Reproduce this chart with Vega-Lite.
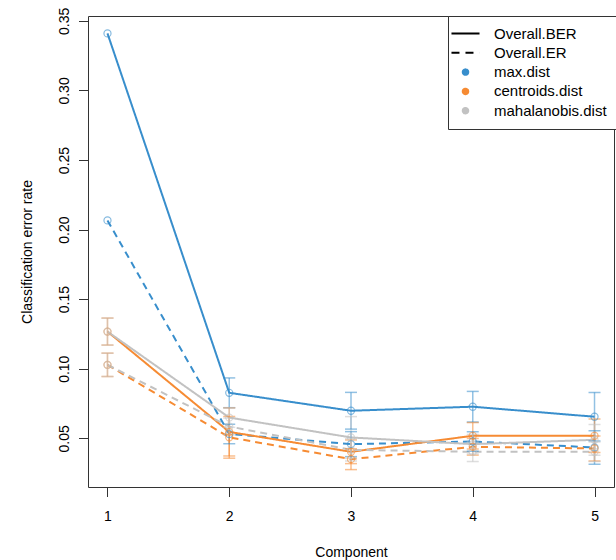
{
  "$schema": "https://vega.github.io/schema/vega-lite/v6.json",
  "width": 526,
  "height": 471,
  "autosize": {"type": "none"},
  "padding": {"left": 88, "top": 16, "right": 2, "bottom": 73},
  "background": "white",
  "data": {
    "values": [
      {"comp": 1, "method": "max.dist", "measure": "Overall.BER", "mean": 0.341, "lo": 0.341, "hi": 0.341},
      {"comp": 2, "method": "max.dist", "measure": "Overall.BER", "mean": 0.0827, "lo": 0.072, "hi": 0.0934},
      {"comp": 3, "method": "max.dist", "measure": "Overall.BER", "mean": 0.0698, "lo": 0.0566, "hi": 0.083},
      {"comp": 4, "method": "max.dist", "measure": "Overall.BER", "mean": 0.0727, "lo": 0.0617, "hi": 0.0837},
      {"comp": 5, "method": "max.dist", "measure": "Overall.BER", "mean": 0.0655, "lo": 0.048, "hi": 0.083},
      {"comp": 1, "method": "max.dist", "measure": "Overall.ER", "mean": 0.2066, "lo": 0.2066, "hi": 0.2066},
      {"comp": 2, "method": "max.dist", "measure": "Overall.ER", "mean": 0.0531, "lo": 0.0461, "hi": 0.0601},
      {"comp": 3, "method": "max.dist", "measure": "Overall.ER", "mean": 0.0458, "lo": 0.0368, "hi": 0.0548},
      {"comp": 4, "method": "max.dist", "measure": "Overall.ER", "mean": 0.0477, "lo": 0.0407, "hi": 0.0547},
      {"comp": 5, "method": "max.dist", "measure": "Overall.ER", "mean": 0.0434, "lo": 0.0314, "hi": 0.0554},
      {"comp": 1, "method": "centroids.dist", "measure": "Overall.BER", "mean": 0.1267, "lo": 0.117, "hi": 0.1364},
      {"comp": 2, "method": "centroids.dist", "measure": "Overall.BER", "mean": 0.0546, "lo": 0.0373, "hi": 0.0719},
      {"comp": 3, "method": "centroids.dist", "measure": "Overall.BER", "mean": 0.0403, "lo": 0.0318, "hi": 0.0488},
      {"comp": 4, "method": "centroids.dist", "measure": "Overall.BER", "mean": 0.0518, "lo": 0.0423, "hi": 0.0613},
      {"comp": 5, "method": "centroids.dist", "measure": "Overall.BER", "mean": 0.0518, "lo": 0.0398, "hi": 0.0638},
      {"comp": 1, "method": "centroids.dist", "measure": "Overall.ER", "mean": 0.1028, "lo": 0.0944, "hi": 0.1112},
      {"comp": 2, "method": "centroids.dist", "measure": "Overall.ER", "mean": 0.0507, "lo": 0.0357, "hi": 0.0657},
      {"comp": 3, "method": "centroids.dist", "measure": "Overall.ER", "mean": 0.035, "lo": 0.0275, "hi": 0.0425},
      {"comp": 4, "method": "centroids.dist", "measure": "Overall.ER", "mean": 0.0439, "lo": 0.0379, "hi": 0.0499},
      {"comp": 5, "method": "centroids.dist", "measure": "Overall.ER", "mean": 0.0427, "lo": 0.0337, "hi": 0.0517},
      {"comp": 1, "method": "mahalanobis.dist", "measure": "Overall.BER", "mean": 0.1267, "lo": 0.117, "hi": 0.1364},
      {"comp": 2, "method": "mahalanobis.dist", "measure": "Overall.BER", "mean": 0.0649, "lo": 0.0579, "hi": 0.0719},
      {"comp": 3, "method": "mahalanobis.dist", "measure": "Overall.BER", "mean": 0.0506, "lo": 0.0356, "hi": 0.0656},
      {"comp": 4, "method": "mahalanobis.dist", "measure": "Overall.BER", "mean": 0.0458, "lo": 0.0388, "hi": 0.0528},
      {"comp": 5, "method": "mahalanobis.dist", "measure": "Overall.BER", "mean": 0.0489, "lo": 0.0379, "hi": 0.0599},
      {"comp": 1, "method": "mahalanobis.dist", "measure": "Overall.ER", "mean": 0.1028, "lo": 0.0944, "hi": 0.1112},
      {"comp": 2, "method": "mahalanobis.dist", "measure": "Overall.ER", "mean": 0.0585, "lo": 0.0525, "hi": 0.0645},
      {"comp": 3, "method": "mahalanobis.dist", "measure": "Overall.ER", "mean": 0.0417, "lo": 0.0337, "hi": 0.0497},
      {"comp": 4, "method": "mahalanobis.dist", "measure": "Overall.ER", "mean": 0.0403, "lo": 0.0333, "hi": 0.0473},
      {"comp": 5, "method": "mahalanobis.dist", "measure": "Overall.ER", "mean": 0.0403, "lo": 0.0333, "hi": 0.0473}
    ]
  },
  "encoding": {
    "x": {
      "field": "comp", "type": "quantitative",
      "scale": {"domain": [0.84, 5.16], "nice": false, "zero": false},
      "axis": {
        "values": [1, 2, 3, 4, 5], "format": "d", "labelFlush": false,
        "labelPadding": 12.5, "title": "Component",
        "titleY": 69.5, "titleBaseline": "alphabetic"
      }
    },
    "color": {
      "field": "method", "type": "nominal",
      "scale": {
        "domain": ["Overall.BER", "Overall.ER", "max.dist", "centroids.dist", "mahalanobis.dist"],
        "range": ["#000000", "#000000", "#388ECC", "#F68B33", "#C2C2C2"]
      },
      "legend": {
        "orient": "none", "legendX": 360, "legendY": 0, "title": null,
        "padding": 10, "strokeColor": "#333333", "fillColor": "white",
        "labelFontSize": 15, "labelFont": "Liberation Sans", "labelColor": "#000000",
        "labelLimit": 300, "symbolSize": 180, "labelOffset": 21, "rowPadding": 3.3,
        "values": ["Overall.BER", "Overall.ER", "max.dist", "centroids.dist", "mahalanobis.dist"],
        "encode": {
          "symbols": {
            "update": {
              "shape": {"signal": "(datum.value === 'Overall.BER' || datum.value === 'Overall.ER') ? 'M-2.09,0H2.09' : 'circle'"},
              "size": {"signal": "(datum.value === 'Overall.BER' || datum.value === 'Overall.ER') ? 180 : 30"},
              "fill": {"signal": "datum.value === 'max.dist' ? '#388ECC' : datum.value === 'centroids.dist' ? '#F68B33' : datum.value === 'mahalanobis.dist' ? '#C2C2C2' : 'transparent'"},
              "stroke": {"signal": "(datum.value === 'Overall.BER' || datum.value === 'Overall.ER') ? '#000000' : 'transparent'"},
              "strokeDash": {"signal": "datum.value === 'Overall.ER' ? [8, 6] : [1, 0]"},
              "strokeWidth": {"value": 2},
              "opacity": {"value": 1}
            }
          }
        }
      }
    }
  },
  "layer": [
    {
      "mark": {"type": "line", "strokeWidth": 2},
      "encoding": {
        "y": {
          "field": "mean", "type": "quantitative",
          "scale": {"domain": [0.015, 0.3535], "nice": false, "zero": false},
          "axis": {
            "values": [0.05, 0.1, 0.15, 0.2, 0.25, 0.3, 0.35], "format": ".2f",
            "labelAngle": -90, "labelAlign": "center", "labelBaseline": "alphabetic",
            "labelPadding": 10.5, "title": "Classification error rate",
            "titleX": -57, "titleBaseline": "alphabetic", "titleAngle": -90
          }
        },
        "strokeDash": {
          "field": "measure", "type": "nominal",
          "scale": {"domain": ["Overall.BER", "Overall.ER"], "range": [[1, 0], [7, 5]]},
          "legend": null
        },
        "order": {"field": "comp"}
      }
    },
    {
      "transform": [{"filter": "datum.hi > datum.lo"}],
      "mark": {"type": "rule", "strokeWidth": 1.5, "opacity": 0.55},
      "encoding": {
        "y": {"field": "lo", "type": "quantitative"},
        "y2": {"field": "hi"}
      }
    },
    {
      "transform": [{"filter": "datum.hi > datum.lo"}],
      "mark": {"type": "tick", "orient": "horizontal", "size": 12, "thickness": 1.5, "opacity": 0.55},
      "encoding": {
        "y": {"field": "lo", "type": "quantitative"}
      }
    },
    {
      "transform": [{"filter": "datum.hi > datum.lo"}],
      "mark": {"type": "tick", "orient": "horizontal", "size": 12, "thickness": 1.5, "opacity": 0.55},
      "encoding": {
        "y": {"field": "hi", "type": "quantitative"}
      }
    },
    {
      "mark": {"type": "point", "shape": "circle", "filled": false, "size": 50, "strokeWidth": 1.2, "opacity": 0.6},
      "encoding": {
        "y": {"field": "mean", "type": "quantitative"}
      }
    }
  ],
  "config": {
    "font": "Liberation Sans",
    "view": {"stroke": "#333333", "strokeWidth": 1},
    "axis": {
      "domain": false, "grid": false, "ticks": true,
      "tickColor": "#333333", "tickSize": 9.5, "tickWidth": 1,
      "labelFontSize": 14, "labelColor": "#000000", "labelFont": "Liberation Sans",
      "titleFontSize": 14, "titleFontWeight": "normal", "titleColor": "#000000", "titleFont": "Liberation Sans"
    }
  }
}
